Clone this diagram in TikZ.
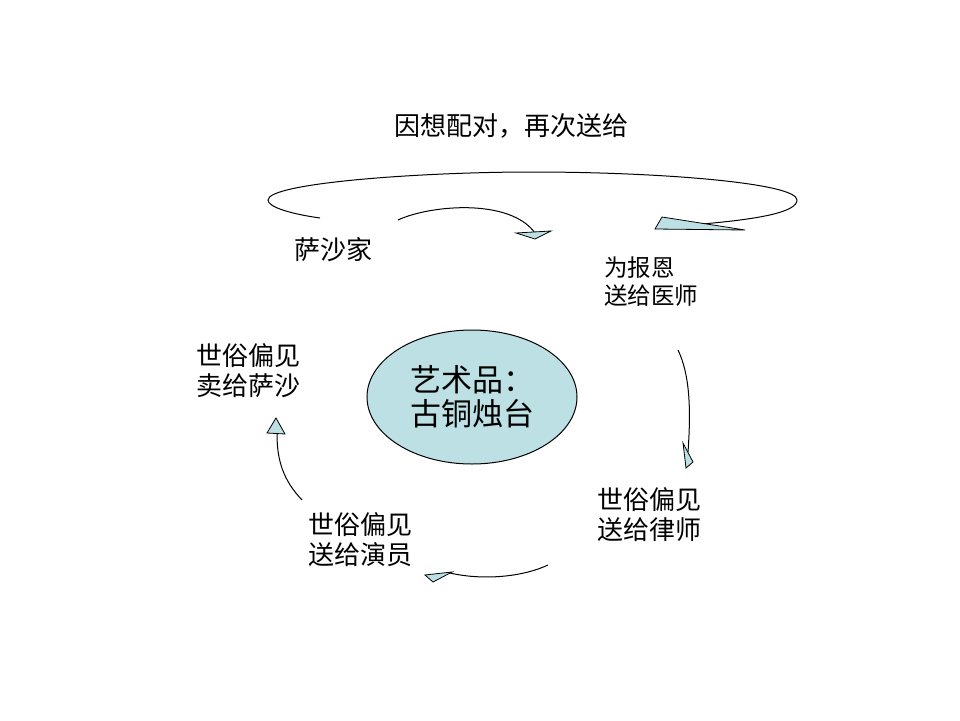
\documentclass[tikz,border=0pt]{standalone}
\usepackage{fontspec}
\usetikzlibrary{shapes.geometric}
\setmainfont{Noto Sans CJK SC}
\definecolor{lblue}{RGB}{188,224,228}
\begin{document}
\begin{tikzpicture}[x=1pt,y=-1pt,
  lbl/.style={inner sep=0pt,font=\fontsize{26}{30}\selectfont,align=left,anchor=west},
  conn/.style={line width=1pt,black},
  head/.style={fill=lblue,draw=black,line width=0.8pt,line join=miter}]
\useasboundingbox (0,0) rectangle (960,720);
\fill[white] (0,0) rectangle (960,720);
% central ellipse
\node[ellipse, draw=black, line width=1pt, fill=lblue, minimum width=210pt, minimum height=134pt, inner sep=0pt, font=\fontsize{31}{34}\selectfont, align=left] (center) at (472,397) {艺术品：\\古铜烛台};
% labels
\node[inner sep=0pt,font=\fontsize{26}{30}\selectfont] (top) at (511,126) {因想配对，再次送给};
\node[lbl] (sasha) at (294,250) {萨沙家};
\node[lbl,font=\fontsize{23.5}{28}\selectfont] (doctor) at (604,282) {为报恩\\送给医师};
\node[lbl] (sell) at (196,371) {世俗偏见\\卖给萨沙};
\node[lbl] (lawyer) at (597,515) {世俗偏见\\送给律师};
\node[lbl] (actor) at (308,540) {世俗偏见\\送给演员};
% coordinates
\coordinate (l1s) at (320,218);
\coordinate (l1e) at (702,224);
\coordinate (l2s) at (398,220);
\coordinate (l2e) at (535,233);
\coordinate (l3s) at (678,350);
\coordinate (l3e) at (688,452);
\coordinate (l4s) at (548,565);
\coordinate (l4e) at (450,573);
\coordinate (l5s) at (302,500);
\coordinate (l5e) at (277,434);
% big loop
\draw[conn] (l1s) .. controls (285,213) and (268,206) .. (268,200)
  .. controls (268,183) and (420,172) .. (532,172)
  .. controls (660,172) and (797,183) .. (797,200)
  .. controls (797,212) and (760,219) .. (l1e);
\filldraw[head] (655,229) -- (662,217) -- (745,230) -- cycle;
% arrow 2
\draw[conn] (l2s) .. controls (430,205) and (510,198) .. (l2e);
\filldraw[head] (516,233) -- (551,231) -- (535,239) -- cycle;
% arrow 3 (right)
\draw[conn] (l3s) .. controls (690,375) and (691,410) .. (l3e);
\filldraw[head] (683,443) -- (693,462) -- (686,468) -- cycle;
% arrow 4 (bottom)
\draw[conn] (l4s) .. controls (520,578) and (480,580) .. (l4e);
\filldraw[head] (425,575) -- (452,572) -- (433,582) -- cycle;
% arrow 5 (left)
\draw[conn] (l5s) .. controls (283,480) and (277,460) .. (l5e);
\filldraw[head] (267,433) -- (276,418) -- (285,434) -- cycle;
\end{tikzpicture}
\end{document}
